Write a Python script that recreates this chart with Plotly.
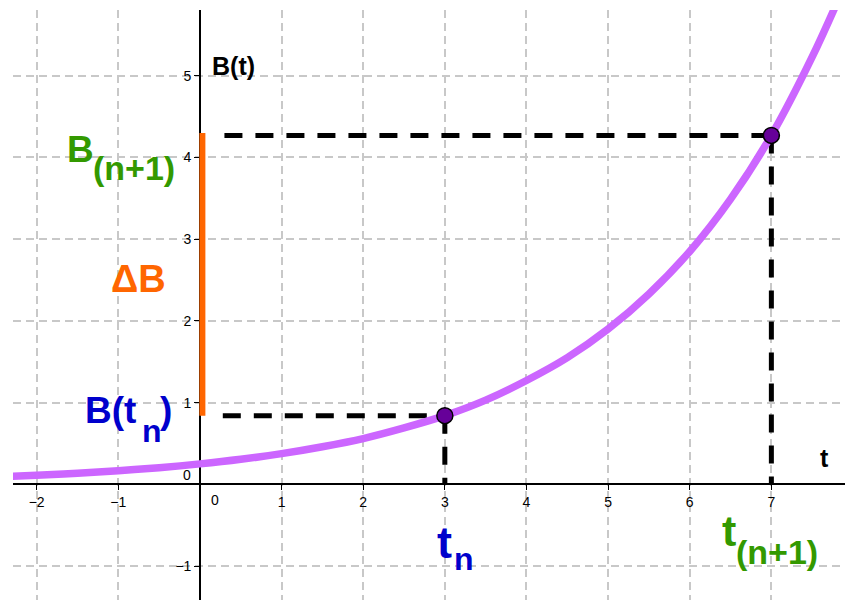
import plotly.graph_objects as go

# curve B(t)
t_vals = [-2.3, -2, -1.5, -1, -0.5, 0, 0.5, 1, 1.5, 2, 2.5, 3, 3.5, 4,
          4.5, 5, 5.5, 6, 6.5, 7, 7.5, 7.85]
b_vals = [0.098, 0.11, 0.136, 0.167, 0.204, 0.25, 0.306, 0.375, 0.46, 0.56,
          0.69, 0.84, 1.03, 1.27, 1.55, 1.90, 2.33, 2.85, 3.49, 4.27, 5.23, 6.0]

# the two marked points
t_n, b_n = 3, 0.84
t_n1, b_n1 = 7, 4.27

x_ticks = [-2, -1, 1, 2, 3, 4, 5, 6, 7, 8]
y_ticks = [-1, 1, 2, 3, 4, 5]

x_range = [-2.29, 8.0]
y_range = [-1.416, 5.805]

GREEN = "#339900"
BLUE = "#0000CC"
ORANGE = "#FF6600"

fig = go.Figure()

# dashed helper lines
dash_style = dict(color="black", width=5, dash="18px,13px")
fig.add_trace(go.Scatter(x=[0.28, t_n], y=[b_n, b_n], mode="lines", line=dash_style))
fig.add_trace(go.Scatter(x=[t_n, t_n], y=[b_n, 0], mode="lines", line=dash_style))
fig.add_trace(go.Scatter(x=[0.3, t_n1], y=[b_n1, b_n1], mode="lines", line=dash_style))
fig.add_trace(go.Scatter(x=[t_n1, t_n1], y=[b_n1, 0], mode="lines", line=dash_style))

# delta B segment
fig.add_trace(go.Scatter(x=[0.03, 0.03], y=[b_n, b_n1 + 0.03], mode="lines",
                         line=dict(color=ORANGE, width=6)))

# the curve
fig.add_trace(go.Scatter(x=t_vals, y=b_vals, mode="lines", line_shape="spline",
                         line=dict(color="#CC66FF", width=7.5)))

# points
fig.add_trace(go.Scatter(x=[t_n, t_n1], y=[b_n, b_n1], mode="markers",
                         marker=dict(size=16, color="#660099",
                                     line=dict(color="black", width=1.5))))

lbl_font = "Liberation Sans, Arial, sans-serif"

# label placement is worked out on the 81.7 px/unit grid of the reference
PX = 81.7
X0, Y0 = 200.3, 484.3

def note(txt, px, py, color, size, anchor="left"):
    fig.add_annotation(x=(px - X0) / PX, y=(Y0 - py) / PX, text=txt,
                       showarrow=False, xanchor=anchor, yanchor="middle",
                       font=dict(family=lbl_font, size=size, color=color))

note("<b>B(t)</b>", 234, 66, "black", 25, "center")
note("<b>t</b>", 825, 458, "black", 25, "center")

note("<b>B</b>", 65, 150, GREEN, 37)
note("<b>(n+1)</b>", 91, 168, GREEN, 34)

note("<b>ΔB</b>", 139, 279, ORANGE, 38, "center")

note("<b>B(t</b>", 83, 410, BLUE, 37)
note("<b>n</b>", 140, 431, BLUE, 32)
note("<b>)</b>", 158, 410, BLUE, 37)

note("<b>t</b>", 436, 542, BLUE, 45)
note("<b>n</b>", 453, 559, BLUE, 32)

note("<b>t</b>", 721, 531, GREEN, 43)
note("<b>(n+1)</b>", 735, 552, GREEN, 34)

# the two "0" labels at the origin
note("0", 215, 500, "black", 14, "center")
note("0", 187, 475, "black", 14, "center")

axis_common = dict(showgrid=True, gridcolor="#c8c8c8", gridwidth=1.5,
                   griddash="8px,5px", zeroline=False, showline=True,
                   linecolor="black", linewidth=1.5, ticks="outside",
                   ticklen=5, tickcolor="black", tickwidth=1,
                   tickfont=dict(family=lbl_font, size=14, color="black"),
                   anchor="free", layer="below traces")

fig.update_xaxes(range=x_range, tickvals=x_ticks,
                 position=(0 - y_range[0]) / (y_range[1] - y_range[0]),
                 **axis_common)
fig.update_yaxes(range=y_range, tickvals=y_ticks,
                 position=(0 - x_range[0]) / (x_range[1] - x_range[0]),
                 **axis_common)

# the page body adds 8px, so the figure is 8px smaller on each side
fig.update_layout(width=845, height=592, showlegend=False,
                  plot_bgcolor="white", paper_bgcolor="white",
                  margin=dict(l=5, r=0, t=2, b=0))

fig.write_html("out.html")
